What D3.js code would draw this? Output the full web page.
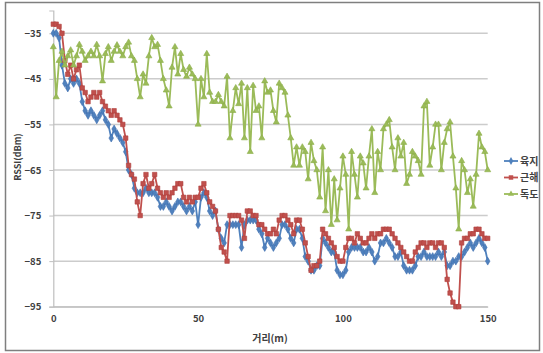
<!DOCTYPE html>
<html>
<head>
<meta charset="utf-8">
<script src="https://cdn.jsdelivr.net/npm/d3@7"></script>
<style>
  html, body { margin: 0; padding: 0; background: #fff; }
  svg { display: block; }
  text { font-family: "Noto Sans CJK KR", "Noto Sans", sans-serif; }
</style>
</head>
<body>
<svg id="chart" width="543" height="353"></svg>
<script>
// ---- data ----
const seriesNames = ["육지", "근해", "독도"];
const distance = d3.range(0, 151); // 0..150 m
const yTicks = [-95, -85, -75, -65, -55, -45, -35];
const xTicks = [0, 50, 100, 150];

const landValues = [
  -35,-35,-36,-42,-46,-47,-45,-46,-45,-46,
  -50,-52,-53,-52,-53,-54,-53,-52,-54,-55,
  -58,-56,-57,-58,-59,-61,-65,-66,-69,-70,
  -70,-70,-69,-70,-70,-70,-71,-73,-73,-72,
  -73,-74,-73,-72,-72,-73,-74,-73,-74,-72,
  -77,-71,-70,-71,-74,-75,-74,-78,-80,-81,
  -77,-77,-77,-77,-77,-82,-77,-76,-76,-76,
  -76,-78,-79,-82,-80,-81,-82,-81,-80,-77,
  -77,-78,-80,-81,-78,-78,-80,-84,-85,-87,
  -87,-86,-86,-80,-81,-82,-83,-83,-87,-88,
  -88,-87,-83,-82,-82,-82,-82,-83,-83,-82,
  -83,-85,-84,-81,-81,-80,-81,-82,-84,-84,
  -83,-86,-87,-87,-87,-86,-84,-84,-83,-84,
  -84,-84,-84,-83,-84,-83,-86,-86,-85,-85,
  -84,-84,-83,-82,-81,-82,-81,-80,-81,-82,
  -85
];
const coastValues = [
  -33,-33,-33.5,-35,-41,-44,-42,-45,-43,-42,
  -47,-48,-50,-49,-48,-49,-48,-50,-51,-52,
  -53,-52,-53,-54,-55,-58,-64,-66,-67,-72,
  -75,-68,-66,-69,-68,-66,-69,-70,-71,-70,
  -71,-70,-69,-68,-68,-71,-72,-71,-72,-71,
  -71,-69,-68,-70,-72,-73,-74,-78,-82,-83,
  -85,-75,-75,-75,-75,-76,-80,-74,-74,-75,
  -75,-77,-77,-78,-79,-79,-78,-79,-76,-75,
  -75,-76,-77,-79,-76,-76,-78,-81,-84,-87,
  -86,-86,-85,-78,-79,-80,-81,-82,-84,-85,
  -85,-82,-80,-80,-81,-79,-80,-81,-81,-80,
  -79,-80,-79,-79,-78,-78,-78,-79,-80,-81,
  -82,-83,-84,-85,-85,-83,-82,-81,-81,-82,
  -81,-81,-82,-81,-81,-82,-89,-92,-94,-95,
  -95,-81,-80,-80,-79,-79,-78,-78,-79,-80,
  -80
];
const dokdoValues = [
  -38,-49,-41,-39,-42,-40,-38.7,-42,-40,-37.5,
  -39,-41,-40,-39,-40,-37.5,-40,-45.5,-39.5,-38,
  -41,-39,-37.6,-39,-40,-38,-37,-40,-41,-45,
  -49,-44,-46,-40,-36,-38,-37.5,-41,-45,-47.5,
  -51,-42.5,-38,-44,-39.5,-43,-44.5,-42.5,-44,-45,
  -55,-45,-49,-39.5,-48,-50,-50,-48.5,-50,-51,
  -44.5,-58,-52,-47,-50.5,-46,-58,-47,-61,-46.5,
  -52,-51,-58,-45.5,-48,-47.5,-52,-54.5,-46,-47,
  -48,-53,-58,-64,-60,-64,-60,-61,-67,-59,
  -63,-65,-71,-60,-74,-65,-77,-67,-76,-69,
  -62,-66,-78,-61,-66,-71,-62,-63.5,-69,-62,
  -56,-70,-61,-65,-56,-55,-54,-60,-65,-58,
  -62,-59,-68,-66,-61,-62,-63,-66,-51,-50,
  -64,-60,-55,-55,-65,-59,-56,-54.5,-62,-69,
  -78,-63,-65,-70,-67,-73,-66,-57,-60,-61,
  -65
];

const colors = ["#4F81BD", "#C0504D", "#9BBB59"];
const strokeColors = ["#3F6FB0", "#B0403D", "#8CAF48"];
const symbols = [d3.symbolDiamond, d3.symbolSquare, d3.symbolTriangle];
const symbolSizes = [18, 20, 16];
const allValues = [landValues, coastValues, dokdoValues];

// ---- drawing ----
const svg = d3.select("#chart");

// outer frame
svg.append("rect")
  .attr("x", 5.5).attr("y", 2.5)
  .attr("width", 534).attr("height", 348)
  .attr("fill", "#fff")
  .attr("stroke", "#7f7f7f")
  .attr("stroke-width", 1.5);

const x = d3.scaleLinear().domain([0, 150]).range([53.3, 487.7]);
const y = d3.scaleLinear().domain([-95, -30]).range([306.7, 10.5]);

// gridlines
svg.append("g")
  .selectAll("line")
  .data(yTicks)
  .join("line")
  .attr("x1", x(0)).attr("x2", x(150))
  .attr("y1", d => y(d)).attr("y2", d => y(d))
  .attr("stroke", "#cccccc")
  .attr("stroke-width", 1.5);

// y axis
const yAxis = svg.append("g")
  .attr("transform", `translate(${x(0)},0)`)
  .call(d3.axisLeft(y).tickValues(yTicks).tickSize(4).tickPadding(8).tickFormat(d3.format("d")));
yAxis.select(".domain").attr("stroke", "#bfbfbf").attr("stroke-width", 1.2);
yAxis.selectAll(".tick line").attr("stroke", "#bfbfbf");
yAxis.selectAll(".tick text")
  .attr("fill", "#404040")
  .attr("font-size", 9.5)
  .attr("font-weight", "bold")
  .style("font-family", "'Noto Sans CJK KR', sans-serif");

// x axis
const xAxis = svg.append("g")
  .attr("transform", `translate(0,${y(-95)})`)
  .call(d3.axisBottom(x).tickValues(xTicks).tickSize(0).tickPadding(9).tickFormat(d3.format("d")));
xAxis.select(".domain").attr("stroke", "#bfbfbf").attr("stroke-width", 1.2);
xAxis.selectAll(".tick text")
  .attr("fill", "#404040")
  .attr("font-size", 9.5)
  .attr("font-weight", "bold")
  .style("font-family", "'Noto Sans CJK KR', sans-serif");

// axis titles
svg.append("text")
  .attr("x", 270).attr("y", 342)
  .attr("text-anchor", "middle")
  .attr("font-size", 10)
  .attr("font-weight", "bold")
  .attr("fill", "#404040")
  .text("거리(m)");

svg.append("text")
  .attr("transform", "translate(21,157) rotate(-90)")
  .attr("text-anchor", "middle")
  .attr("font-size", 9)
  .attr("font-weight", "bold")
  .attr("fill", "#404040")
  .text("RSSI(dBm)");

// series
const line = d3.line().x((d, i) => x(distance[i])).y(d => y(d));

allValues.forEach((vals, si) => {
  const g = svg.append("g");
  g.append("path")
    .datum(vals)
    .attr("d", line)
    .attr("fill", "none")
    .attr("stroke", colors[si])
    .attr("stroke-width", 1.8)
    .attr("stroke-linejoin", "round");
  g.selectAll("path.m")
    .data(vals)
    .join("path")
    .attr("class", "m")
    .attr("transform", (d, i) => `translate(${x(distance[i])},${y(d)})`)
    .attr("d", d3.symbol().type(symbols[si]).size(symbolSizes[si]))
    .attr("fill", colors[si])
    .attr("stroke", strokeColors[si])
    .attr("stroke-width", 0.6);
});

// legend
const legend = svg.append("g").attr("transform", "translate(504,161)");
seriesNames.forEach((name, i) => {
  const row = legend.append("g").attr("transform", `translate(0,${i * 16.5})`);
  row.append("line")
    .attr("x1", 0).attr("x2", 14).attr("y1", 0).attr("y2", 0)
    .attr("stroke", colors[i]).attr("stroke-width", 1.8);
  row.append("path")
    .attr("transform", "translate(7,0)")
    .attr("d", d3.symbol().type(symbols[i]).size(symbolSizes[i]))
    .attr("fill", colors[i]);
  row.append("text")
    .attr("x", 16).attr("y", 0)
    .attr("dy", "0.35em")
    .attr("font-size", 10)
    .attr("font-weight", "bold")
    .attr("fill", "#404040")
    .text(name);
});
</script>
</body>
</html>
